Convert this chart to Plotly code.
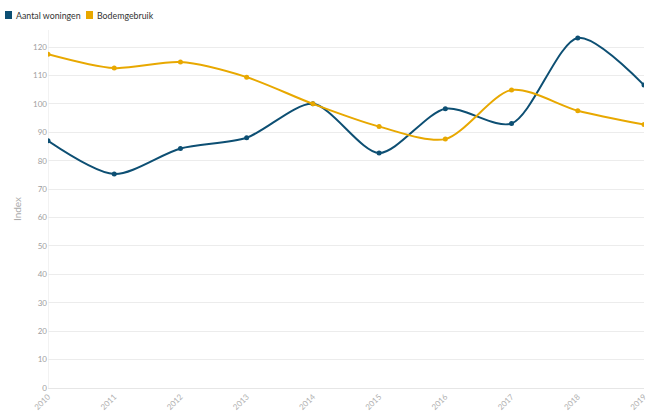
import plotly.graph_objects as go

years = ["2010", "2011", "2012", "2013", "2014", "2015", "2016", "2017", "2018", "2019"]
woningen = [87.0, 75.3, 84.3, 88.1, 100.0, 82.7, 98.3, 93.1, 123.2, 106.6]
bodemgebruik = [117.5, 112.6, 114.7, 109.4, 100.0, 92.0, 87.6, 104.9, 97.6, 92.7]

series_names = ["Aantal woningen", "Bodemgebruik"]
colors = ["#0d4f73", "#e8a800"]

fig = go.Figure()

for name, values, color in zip(series_names, [woningen, bodemgebruik], colors):
    fig.add_trace(go.Scatter(
        x=years,
        y=values,
        name=name,
        mode="lines+markers",
        line=dict(color=color, width=2, shape="spline", smoothing=0.8),
        marker=dict(color=color, size=5),
        showlegend=False,
    ))

# hand-made legend at the top left (swatch + label)
# plot area is 48..644 x 30..388 in pixels
legend_x = [5, 86]
for name, color, px in zip(series_names, colors, legend_x):
    fig.add_shape(
        type="rect", xref="paper", yref="paper",
        x0=(px - 48) / 596, x1=(px + 7 - 48) / 596,
        y0=(388 - 19) / 358, y1=(388 - 11) / 358,
        fillcolor=color, line=dict(width=0),
    )
    fig.add_annotation(
        xref="paper", yref="paper",
        x=(px + 9 - 48) / 596, y=(388 - 15) / 358,
        xanchor="left", yanchor="middle",
        text=name, showarrow=False,
        font=dict(size=8.8, color="#333333"),
    )

fig.update_layout(
    width=660,
    height=416,
    margin=dict(l=48, r=16, t=30, b=28),
    paper_bgcolor="white",
    plot_bgcolor="white",
    font=dict(family="Lato", size=9, color="#aaaaaa"),
    showlegend=False,
    xaxis=dict(
        type="category",
        tickangle=-45,
        showgrid=False,
        showline=True,
        linecolor="#e6e6e6",
        zeroline=False,
        ticks="",
        tickfont=dict(size=8, color="#b0b0b0"),
        range=[0, 9],
        automargin=False,
    ),
    yaxis=dict(
        range=[0, 126],
        dtick=10,
        showgrid=True,
        gridcolor="#ececec",
        zeroline=False,
        showline=False,
        ticks="",
        tickfont=dict(size=8, color="#a0a0a0"),
        title=dict(text="Index", font=dict(size=10, color="#aaaaaa"), standoff=9),
        automargin=False,
    ),
)

fig.add_shape(
    type="line", xref="x", yref="paper", x0=0, x1=0, y0=0, y1=1,
    line=dict(color="#e6e6e6", width=1), layer="below",
)

# drop the browser's default body margin so the figure fills the window
fig.write_html(
    "out.html",
    config={"displayModeBar": False},
    post_script="document.body.style.margin = '0';",
)
